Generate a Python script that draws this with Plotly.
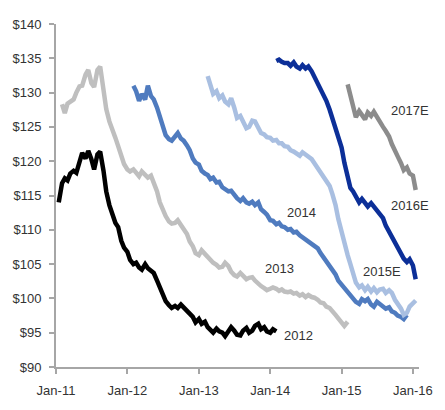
import pandas as pd
import plotly.graph_objects as go

# Forward curves: semi-monthly values, each series starts at its own date
start_2012 = "2011-01-15"
vals_2012 = [114.0, 116.8, 117.5, 117.2, 118.2, 118.6, 118.3, 119.6, 121.2, 120.4,
             121.5, 120.3, 118.8, 121.0, 121.4, 118.6, 115.6, 113.6, 112.2, 111.0,
             110.4, 108.4, 107.4, 106.8, 105.6, 105.0, 105.2, 104.5, 104.2, 105.0,
             104.4, 104.0, 103.7, 102.6, 101.6, 100.6, 99.6, 99.0, 98.6, 98.9,
             98.6, 99.1, 98.7, 98.2, 97.8, 97.3, 96.5, 97.0, 96.3, 96.6,
             95.8, 95.4, 95.0, 95.6, 95.2, 95.0, 94.5, 95.2, 95.8, 95.3,
             94.7, 94.6, 95.3, 95.7, 95.0, 95.3, 96.0, 96.3, 95.5, 95.8,
             95.2, 95.0, 95.5, 95.2]

start_2013 = "2011-02-01"
vals_2013 = [128.3, 127.0, 128.4, 128.6, 129.0, 130.0, 130.9, 131.0, 132.6, 133.3,
             131.4, 130.8, 133.3, 133.8, 129.8, 127.6, 125.8, 124.9, 123.4, 122.2,
             120.8, 119.6, 118.8, 118.5, 118.8, 118.3, 117.8, 118.5, 118.0, 117.6,
             117.9, 116.8, 115.6, 114.0, 112.8, 112.0, 111.2, 110.9, 111.0, 111.4,
             110.7, 110.0, 109.4, 108.3, 107.6, 106.6, 106.3, 107.0, 106.5, 106.0,
             105.5, 105.2, 104.9, 104.5, 104.6, 105.2, 104.7, 103.9, 103.4, 103.2,
             103.7, 103.2, 102.8, 103.0, 103.1, 102.6, 102.1, 101.8, 101.5, 101.2,
             101.4, 101.6, 101.4, 101.1, 101.3, 101.0, 100.9, 101.0, 100.7, 100.8,
             100.4, 100.6, 100.2, 100.5, 100.2, 100.1, 99.8, 99.4, 99.3, 98.8,
             98.6, 98.0, 97.6, 97.1, 96.6, 96.0, 96.6]

start_2014 = "2012-02-01"
vals_2014 = [131.0, 130.2, 128.8, 129.8, 129.0, 131.0, 129.5, 129.0, 127.8, 126.4,
             124.6, 123.8, 123.2, 123.0, 123.6, 124.1, 123.3, 123.0, 122.3, 121.6,
             120.4, 119.8, 119.5, 118.6, 118.2, 118.0, 117.4, 117.6, 116.9, 117.0,
             116.2, 116.0, 115.6, 115.7, 115.0, 114.6, 114.2, 114.6, 114.0, 113.8,
             114.1, 113.6, 114.0, 113.0, 112.6, 112.2, 111.4, 111.3, 110.8, 111.0,
             110.5, 110.4, 110.0, 110.1, 109.6, 109.7, 109.2, 108.9, 108.6, 108.4,
             108.0, 107.6, 107.3, 106.6, 106.0, 105.3, 104.8, 104.1, 103.5, 102.6,
             102.0, 101.5, 100.9, 100.6, 100.1, 99.5, 99.2, 99.9, 99.6, 99.9,
             99.1, 98.8, 99.5, 99.2, 98.9, 98.5, 98.7, 98.1, 97.9, 97.5,
             97.3, 97.0, 97.6]

start_2015 = "2013-02-15"
vals_2015 = [132.4, 130.8, 129.8, 130.2, 129.2, 129.6, 128.7, 128.3, 129.2, 127.8,
             126.3, 126.6, 125.6, 124.8, 125.0, 125.9, 125.8, 124.9, 124.1, 123.9,
             123.5, 123.4, 123.0, 123.1, 122.6, 122.6, 122.2, 122.1, 121.6, 121.4,
             121.1, 120.8, 121.3, 121.0, 120.6, 120.3, 119.7, 119.0, 118.5, 117.7,
             117.1, 116.4, 115.2, 113.6, 111.6, 109.6, 107.7, 106.3, 105.0, 103.5,
             102.3, 101.6, 101.9, 101.2, 101.7, 101.0, 101.5, 100.9, 101.3, 101.4,
             100.8, 101.2, 100.8, 99.8, 99.3, 98.5, 97.6, 97.9, 98.8, 99.3,
             99.7]

start_2016 = "2014-02-01"
vals_2016 = [134.6, 134.8, 134.5, 134.3, 134.3, 133.9, 134.4, 133.8, 133.5, 134.0,
             133.5, 133.8, 133.1, 132.3, 131.6, 130.8, 129.6, 128.8, 127.5, 126.3,
             125.0, 123.7, 122.0, 119.8, 117.4, 116.1, 115.6, 114.9, 114.0, 114.5,
             113.8, 113.4, 113.9, 113.4, 113.0, 112.5, 111.7, 110.6, 109.7, 109.0,
             108.4, 107.6, 106.6, 105.8, 105.3, 105.7, 104.8, 102.8]

start_2017 = "2015-02-01"
vals_2017 = [131.2, 129.7, 128.2, 126.4, 127.3, 126.7, 126.1, 127.1, 126.6, 127.2,
             126.4, 125.6, 125.0, 124.4, 123.6, 122.5, 121.4, 120.7, 119.7, 118.7,
             119.1, 118.2, 117.9, 115.8]

series_names = ["2012", "2013", "2014", "2015E", "2016E", "2017E"]
series_starts = [start_2012, start_2013, start_2014, start_2015, start_2016, start_2017]
series_values = [vals_2012, vals_2013, vals_2014, vals_2015, vals_2016, vals_2017]
series_colors = ["#000000", "#BFBFBF", "#4F7BBF", "#A9BFE1", "#0C2F98", "#8C8C8C"]

# label placement (paper coords)
label_pos = {
    "2012": (0.668, 0.093),
    "2013": (0.617, 0.287),
    "2014": (0.676, 0.449),
    "2015E": (0.898, 0.278),
    "2016E": (0.976, 0.472),
    "2017E": (0.976, 0.747),
}

FONT = "Liberation Sans, Arial, sans-serif"
TXT = "#333333"
AX = "#A6A6A6"

fig = go.Figure()
for name, st, vals, col in zip(series_names, series_starts, series_values, series_colors):
    dates = pd.date_range(st, periods=len(vals), freq="SMS")
    fig.add_trace(go.Scatter(x=dates, y=vals, mode="lines", name=name,
                             line=dict(color=col, width=4.5, shape="linear"),
                             showlegend=False, hoverinfo="skip"))

for name in series_names:
    px_, py_ = label_pos[name]
    fig.add_annotation(x=px_, y=py_, xref="paper", yref="paper", text=name,
                       showarrow=False, xanchor="center", yanchor="middle",
                       font=dict(family=FONT, size=13, color=TXT))

fig.update_layout(
    width=445, height=410,
    margin=dict(l=55, r=17, t=24, b=30),
    paper_bgcolor="white", plot_bgcolor="white",
    font=dict(family=FONT, size=13, color=TXT),
)
fig.update_xaxes(
    type="date", range=["2011-01-01", "2016-02-01"],
    tick0="2011-01-01", dtick="M12", tickformat="%b-%y",
    showgrid=False, zeroline=False,
    showline=True, linecolor=AX, linewidth=2,
    ticks="outside", ticklen=5, tickcolor=AX, tickwidth=1.5,
    tickfont=dict(family=FONT, size=13, color=TXT),
    ticklabelstandoff=5,
)
fig.update_yaxes(
    range=[90, 140], dtick=5, tick0=90, tickprefix="$",
    showgrid=False, zeroline=False,
    showline=True, linecolor=AX, linewidth=2,
    ticks="outside", ticklen=5, tickcolor=AX, tickwidth=1.5,
    tickfont=dict(family=FONT, size=13, color=TXT),
    ticklabelstandoff=5,
)

fig.write_html("out.html")
